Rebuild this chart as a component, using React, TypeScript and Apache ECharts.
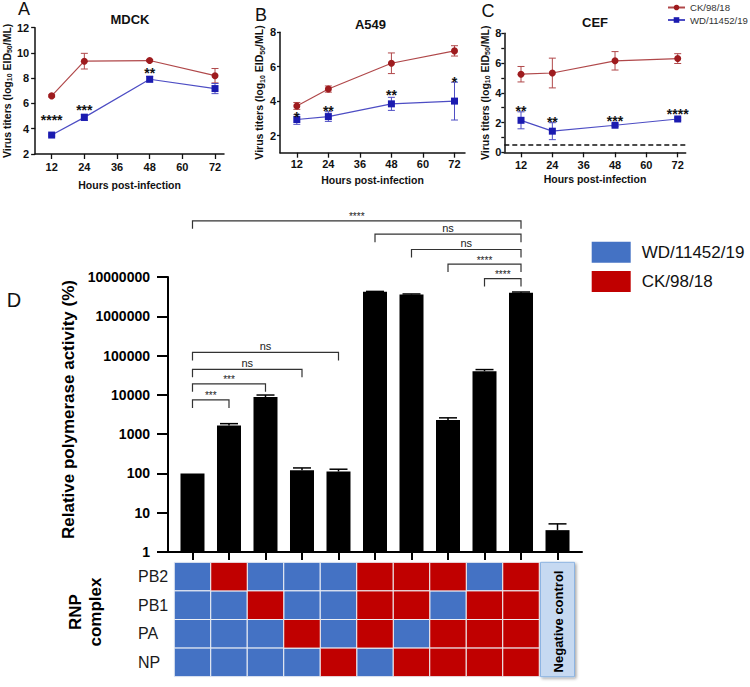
import React, { useEffect, useRef } from 'react';
import * as echarts from 'echarts';

// ---------- Data: panels A–C (virus titers, log10 EID50/mL) ----------
const hours = [12, 24, 48, 72];
const hourTicks = [12, 24, 36, 48, 60, 72];

const mdckCK = [6.6, 9.35, 9.4, 8.2];
const mdckCKErr = [0.08, 0.62, 0.08, 0.57];
const mdckWD = [3.5, 4.9, 7.92, 7.18];
const mdckWDErr = [0.08, 0.25, 0.22, 0.4];
const mdckStars = ['****', '***', '**', ''];
const mdckStarY = [5.0, 5.75, 8.65, 0];

const a549CK = [3.72, 4.7, 6.2, 6.92];
const a549CKErr = [0.2, 0.18, 0.6, 0.3];
const a549WD = [2.93, 3.1, 3.84, 4.0];
const a549WDErr = [0.28, 0.28, 0.38, 1.1];
const a549Stars = ['*', '**', '**', '*'];
const a549StarY = [3.26, 3.63, 4.53, 5.31];

const cefCK = [5.25, 5.33, 6.15, 6.3];
const cefCKErr = [0.52, 1.0, 0.62, 0.33];
const cefWD = [2.15, 1.42, 1.82, 2.24];
const cefWDErr = [0.57, 0.57, 0.08, 0.08];
const cefStars = ['**', '**', '***', '****'];
const cefStarY = [3.0, 2.28, 2.32, 2.77];
const cefDetectionLimit = 0.5;

// ---------- Data: panel D (relative polymerase activity, %) ----------
const barValues = [100, 1650, 8800, 120, 112, 4200000, 3600000, 2300, 40000, 4000000, 3.6];
const barErrTop = [100, 1850, 9900, 138, 128, 4300000, 3700000, 2600, 44000, 4150000, 5.2];
const yTickValues = [1, 10, 100, 1000, 10000, 100000, 1000000, 10000000];

// brackets: [fromBar, toBar, height (log10 of %), label]
const bracketFrom = [0, 5, 6, 7, 8, 0, 0, 0, 0];
const bracketTo = [9, 9, 9, 9, 9, 4, 3, 2, 1];
const bracketLevel = [8.43, 8.09, 7.7, 7.33, 6.96, 5.08, 4.65, 4.28, 3.87];
const bracketLabel = ['****', 'ns', 'ns', '****', '****', 'ns', 'ns', '***', '***'];

// RNP complex: 1 = CK/98/18 segment, 0 = WD/11452/19 segment
const rnpRows = ['PB2', 'PB1', 'PA', 'NP'];
const rowPB2 = [0, 1, 0, 0, 0, 1, 1, 1, 0, 1];
const rowPB1 = [0, 0, 1, 0, 0, 1, 1, 0, 1, 1];
const rowPA = [0, 0, 0, 1, 0, 1, 0, 1, 1, 1];
const rowNP = [0, 0, 0, 0, 1, 0, 1, 1, 1, 1];
const controlLabel = 'Negative control';

const strainCK = 'CK/98/18';
const strainWD = 'WD/11452/19';

// ---------- Styles ----------
const F = '"Liberation Sans", Arial, Helvetica, sans-serif';
const CK_DOT = '#9E1B1E';
const CK_LINE = '#B0484A';
const WD_DOT = '#1B1BB0';
const WD_LINE = '#4D4DC4';
const BLUE = '#4472C4';
const RED = '#C00000';

function errSeries(idx: number, means: number[], errs: number[], color: string) {
  return {
    type: 'custom',
    xAxisIndex: idx,
    yAxisIndex: idx,
    z: 1,
    silent: true,
    data: hours.map((h, i) => [h, means[i], errs[i]]),
    renderItem: (params: any, api: any) => {
      const x = api.value(0), m = api.value(1), e = api.value(2);
      const t = api.coord([x, m + e]);
      const b = api.coord([x, m - e]);
      const st = { stroke: color, lineWidth: 1 };
      return {
        type: 'group',
        children: [
          { type: 'line', shape: { x1: t[0], y1: t[1], x2: b[0], y2: b[1] }, style: st },
          { type: 'line', shape: { x1: t[0] - 3.5, y1: t[1], x2: t[0] + 3.5, y2: t[1] }, style: st },
          { type: 'line', shape: { x1: b[0] - 3.5, y1: b[1], x2: b[0] + 3.5, y2: b[1] }, style: st },
        ],
      };
    },
  };
}

function starSeries(idx: number, ys: number[], labels: string[]) {
  return {
    type: 'custom',
    xAxisIndex: idx,
    yAxisIndex: idx,
    z: 5,
    silent: true,
    data: hours.map((h, i) => [h, ys[i], i]).filter((d) => labels[d[2]]),
    renderItem: (params: any, api: any) => {
      const p = api.coord([api.value(0), api.value(1)]);
      return {
        type: 'text',
        x: p[0],
        y: p[1] + 3.4,
        z2: 10,
        style: {
          text: labels[api.value(2)],
          fontSize: 14,
          fontWeight: 'bold',
          fontFamily: F,
          fill: '#111',
          align: 'center',
          verticalAlign: 'middle',
        },
      };
    },
  };
}

function lineSeries(idx: number, name: string, vals: number[], isCK: boolean) {
  return {
    type: 'line',
    name,
    xAxisIndex: idx,
    yAxisIndex: idx,
    z: 3,
    data: hours.map((h, i) => [h, vals[i]]),
    symbol: isCK ? 'circle' : 'rect',
    symbolSize: 7,
    itemStyle: { color: isCK ? CK_DOT : WD_DOT },
    lineStyle: { color: isCK ? CK_LINE : WD_LINE, width: 1.2 },
  };
}

const yName = 'Virus titers (log{s|10} EID{s|50}/ML)';
const yNameStyle = {
  fontSize: 10.5,
  fontWeight: 'bold',
  fontFamily: F,
  color: '#111',
  rich: { s: { fontSize: 7, fontWeight: 'bold', fontFamily: F, color: '#111', padding: [6, 0, 0, 0] } },
};
const axisLbl = { fontSize: 11, fontWeight: 'bold', fontFamily: F, color: '#111' };
const axLine = { show: true, onZero: false, lineStyle: { color: '#111', width: 1.5 } };

function panelXAxis(idx: number, min: number, max: number, gap: number, margin: number) {
  return {
    type: 'value',
    gridIndex: idx,
    min,
    max,
    axisLine: axLine,
    axisTick: { show: true, length: 5, customValues: hourTicks, lineStyle: { color: '#111', width: 1.3 } },
    axisLabel: { ...axisLbl, margin, customValues: hourTicks },
    splitLine: { show: false },
    name: 'Hours post-infection',
    nameLocation: 'middle',
    nameGap: gap,
    nameTextStyle: { fontSize: 10.5, fontWeight: 'bold', fontFamily: F, color: '#111' },
  };
}

function rowsToCells(flag: number) {
  const rows = [rowPB2, rowPB1, rowPA, rowNP];
  const out: number[][] = [];
  rows.forEach((row, r) => row.forEach((v, c) => { if (v === flag) out.push([c, r]); }));
  return out;
}

function cellSeries(name: string, flag: number, color: string) {
  return {
    type: 'custom',
    name,
    xAxisIndex: 4,
    yAxisIndex: 4,
    itemStyle: { color },
    data: rowsToCells(flag),
    renderItem: (params: any, api: any) => {
      const c = api.coord([api.value(0), api.value(1)]);
      const w = api.size([1, 0])[0];
      const h = api.size([0, 1])[1];
      return {
        type: 'rect',
        shape: { x: c[0] - w / 2, y: c[1] - h / 2, width: w, height: h },
        style: { fill: color, stroke: '#EEF0F5', lineWidth: 1 },
      };
    },
  };
}

export default function App() {
  const ref = useRef<HTMLDivElement>(null);
  useEffect(() => {
    document.body.style.margin = '0';
    if (!ref.current) return;
    const chart = echarts.init(ref.current, undefined, { renderer: 'svg' });
    const lastBar = barValues.length - 1;
    const option: any = {
      animation: false,
      textStyle: { fontFamily: F },
      title: [
        { text: 'A', left: 24, top: 0, textAlign: 'center', padding: 0, textStyle: { fontSize: 18, fontWeight: 'normal', fontFamily: F, color: '#111' } },
        { text: 'MDCK', left: 130, top: 12.5, textAlign: 'center', padding: 0, textStyle: { fontSize: 13, fontWeight: 'bold', fontFamily: F, color: '#111' } },
        { text: 'B', left: 261, top: 5.5, textAlign: 'center', padding: 0, textStyle: { fontSize: 18, fontWeight: 'normal', fontFamily: F, color: '#111' } },
        { text: 'A549', left: 370.5, top: 17.7, textAlign: 'center', padding: 0, textStyle: { fontSize: 13, fontWeight: 'bold', fontFamily: F, color: '#111' } },
        { text: 'C', left: 488, top: 1.5, textAlign: 'center', padding: 0, textStyle: { fontSize: 18, fontWeight: 'normal', fontFamily: F, color: '#111' } },
        { text: 'CEF', left: 595, top: 16, textAlign: 'center', padding: 0, textStyle: { fontSize: 13, fontWeight: 'bold', fontFamily: F, color: '#111' } },
        { text: 'D', left: 14, top: 290, textAlign: 'center', padding: 0, textStyle: { fontSize: 20, fontWeight: 'normal', fontFamily: F, color: '#111' } },
      ],
      legend: [
        {
          data: [strainCK, strainWD],
          orient: 'vertical',
          left: 667,
          top: 2.5,
          padding: 0,
          itemWidth: 17,
          itemHeight: 7,
          itemGap: 2.5,
          selectedMode: false,
          textStyle: { fontSize: 9.6, fontFamily: F, color: '#333' },
        },
        {
          data: [
            { name: strainWD + ' ', icon: 'rect', itemStyle: { color: BLUE } },
            { name: strainCK + ' ', icon: 'rect', itemStyle: { color: RED } },
          ],
          orient: 'vertical',
          left: 591.7,
          top: 241.7,
          padding: 0,
          itemWidth: 39,
          itemHeight: 21,
          itemGap: 8.4,
          selectedMode: false,
          formatter: (n: string) => n.trim(),
          textStyle: { fontSize: 17, fontFamily: F, color: '#111', padding: [0, 0, 0, 6] },
        },
      ],
      grid: [
        { left: 33.3, top: 27.7, width: 190.7, height: 126.3 },
        { left: 280, top: 32.3, width: 185, height: 120.4 },
        { left: 504.3, top: 33.3, width: 181.4, height: 119 },
        { left: 168, top: 277, width: 414, height: 275 },
        { left: 168, top: 562.3, width: 414, height: 114.4 },
      ],
      xAxis: [
        panelXAxis(0, 5.93, 75.3, 25.5, 7),
        panelXAxis(1, 5.6, 76, 21.5, 6),
        panelXAxis(2, 5.6, 75.06, 21.5, 7),
        {
          type: 'value',
          gridIndex: 3,
          min: -0.671,
          max: 10.671,
          axisLine: { show: true, onZero: false, lineStyle: { color: '#000', width: 2 } },
          axisTick: { show: true, length: 8, customValues: barValues.map((_, i) => i), lineStyle: { color: '#000', width: 2 } },
          axisLabel: { show: false },
          splitLine: { show: false },
        },
        { type: 'value', gridIndex: 4, min: -0.671, max: 10.671, show: false },
      ],
      yAxis: [
        {
          type: 'value', gridIndex: 0, min: 2, max: 12, interval: 2,
          axisLine: axLine,
          axisTick: { show: true, length: 4, lineStyle: { color: '#111', width: 1.3 } },
          axisLabel: { ...axisLbl, margin: 6 },
          splitLine: { show: false },
          name: yName, nameLocation: 'middle', nameGap: 19, nameTextStyle: yNameStyle,
        },
        {
          type: 'value', gridIndex: 1, min: 1, max: 8,
          axisLine: axLine,
          axisTick: { show: true, length: 3, customValues: [2, 4, 6, 8], lineStyle: { color: '#111', width: 1.3 } },
          axisLabel: { ...axisLbl, margin: 4, customValues: [2, 4, 6, 8] },
          splitLine: { show: false },
          name: yName, nameLocation: 'middle', nameGap: 10.5, nameTextStyle: yNameStyle,
        },
        {
          type: 'value', gridIndex: 2, min: 0, max: 8, interval: 1,
          axisLine: axLine,
          axisTick: { show: true, length: 3, lineStyle: { color: '#111', width: 1.3 } },
          axisLabel: { ...axisLbl, margin: 3, formatter: (v: number) => (v % 2 === 0 ? String(v) : '') },
          splitLine: { show: false },
          name: yName, nameLocation: 'middle', nameGap: 13, nameTextStyle: yNameStyle,
        },
        {
          type: 'log', gridIndex: 3, min: 1, max: 10000000, logBase: 10, splitNumber: 7,
          axisLine: { show: true, onZero: false, lineStyle: { color: '#000', width: 2 } },
          axisTick: { show: true, length: 11, customValues: yTickValues, lineStyle: { color: '#000', width: 2 } },
          axisLabel: {
            fontSize: 14, fontWeight: 'bold', fontFamily: F, color: '#000', margin: 18,
            customValues: yTickValues, formatter: (v: number) => String(Math.round(v)),
          },
          splitLine: { show: false },
          name: 'Relative polymerase activity (%)',
          nameLocation: 'middle',
          nameGap: 86.5,
          nameTextStyle: { fontSize: 17, fontWeight: 'bold', fontFamily: F, color: '#000', padding: [0, 0, 0, 10] },
        },
        {
          type: 'category', gridIndex: 4, data: rnpRows, inverse: true,
          axisLine: { show: false }, axisTick: { show: false },
          axisLabel: { fontSize: 16, fontFamily: F, color: '#1a1a1a', align: 'left', margin: 30 },
          splitLine: { show: false },
          name: 'RNP\ncomplex',
          nameLocation: 'middle',
          nameGap: 63,
          nameTextStyle: { fontSize: 17, fontWeight: 'bold', fontFamily: F, color: '#000', lineHeight: 20, padding: [0, 0, 0, 15] },
        },
      ],
      series: [
        // Panel A
        errSeries(0, mdckCK, mdckCKErr, CK_LINE),
        errSeries(0, mdckWD, mdckWDErr, WD_LINE),
        lineSeries(0, strainCK, mdckCK, true),
        lineSeries(0, strainWD, mdckWD, false),
        starSeries(0, mdckStarY, mdckStars),
        // Panel B
        errSeries(1, a549CK, a549CKErr, CK_LINE),
        errSeries(1, a549WD, a549WDErr, WD_LINE),
        lineSeries(1, strainCK, a549CK, true),
        lineSeries(1, strainWD, a549WD, false),
        starSeries(1, a549StarY, a549Stars),
        // Panel C
        errSeries(2, cefCK, cefCKErr, CK_LINE),
        errSeries(2, cefWD, cefWDErr, WD_LINE),
        lineSeries(2, strainCK, cefCK, true),
        {
          ...lineSeries(2, strainWD, cefWD, false),
          markLine: {
            silent: true,
            symbol: 'none',
            label: { show: false },
            lineStyle: { color: '#111', width: 1.5, type: [5, 3] },
            data: [{ yAxis: cefDetectionLimit }],
          },
        },
        starSeries(2, cefStarY, cefStars),
        // Panel D bars
        {
          type: 'bar',
          xAxisIndex: 3,
          yAxisIndex: 3,
          barWidth: 24,
          itemStyle: { color: '#000' },
          data: barValues.map((v, i) => [i, v]),
          z: 2,
        },
        {
          type: 'custom',
          xAxisIndex: 3,
          yAxisIndex: 3,
          silent: true,
          z: 3,
          data: barValues.map((v, i) => [i, v, barErrTop[i]]).filter((d) => d[2] > d[1]),
          renderItem: (params: any, api: any) => {
            const t = api.coord([api.value(0), api.value(2)]);
            const b = api.coord([api.value(0), api.value(1)]);
            const st = { stroke: '#000', lineWidth: 1.5 };
            return {
              type: 'group',
              children: [
                { type: 'line', shape: { x1: t[0], y1: t[1], x2: b[0], y2: b[1] }, style: st },
                { type: 'line', shape: { x1: t[0] - 9, y1: t[1], x2: t[0] + 9, y2: t[1] }, style: st },
              ],
            };
          },
        },
        // significance brackets
        {
          type: 'custom',
          xAxisIndex: 3,
          yAxisIndex: 3,
          silent: true,
          clip: false,
          z: 4,
          data: bracketFrom.map((f, i) => [f, bracketTo[i], bracketLevel[i], i]),
          renderItem: (params: any, api: any) => {
            const lvl = Math.pow(10, api.value(2));
            const p1 = api.coord([api.value(0), lvl]);
            const p2 = api.coord([api.value(1), lvl]);
            const lab = bracketLabel[api.value(3)];
            const isNs = lab === 'ns';
            const st = { stroke: '#333', lineWidth: 1.2 };
            return {
              type: 'group',
              children: [
                { type: 'polyline', shape: { points: [[p1[0], p1[1] + 8], [p1[0], p1[1]], [p2[0], p2[1]], [p2[0], p2[1] + 8]] }, style: { ...st, fill: 'none' } },
                {
                  type: 'text',
                  x: (p1[0] + p2[0]) / 2,
                  y: p1[1] - (isNs ? 6.3 : 4),
                  style: {
                    text: lab,
                    fontSize: isNs ? 11 : 10,
                    fontFamily: F,
                    fill: '#222',
                    align: 'center',
                    verticalAlign: 'middle',
                  },
                },
              ],
            };
          },
        },
        // RNP complex grid
        cellSeries(strainWD + ' ', 0, BLUE),
        cellSeries(strainCK + ' ', 1, RED),
        {
          type: 'custom',
          xAxisIndex: 4,
          yAxisIndex: 4,
          silent: true,
          data: [[lastBar, 0]],
          renderItem: (params: any, api: any) => {
            const cs = params.coordSys;
            const cx = api.coord([api.value(0), 0])[0];
            return {
              type: 'group',
              children: [
                {
                  type: 'rect',
                  shape: { x: cx - 17, y: cs.y, width: 34, height: cs.height },
                  style: {
                    fill: '#C6D9F1', stroke: '#8DB4E2', lineWidth: 1,
                    shadowBlur: 3, shadowOffsetX: 1.5, shadowOffsetY: 1.5, shadowColor: 'rgba(0,0,0,0.35)',
                  },
                },
                {
                  type: 'text',
                  x: cx + 1,
                  y: cs.y + cs.height / 2 + 2,
                  rotation: Math.PI / 2,
                  style: {
                    text: controlLabel, fontSize: 13, fontWeight: 'bold', fontFamily: F, fill: '#000',
                    align: 'center', verticalAlign: 'middle',
                  },
                },
              ],
            };
          },
        },
      ],
    };
    chart.setOption(option);
    return () => chart.dispose();
  }, []);
  return <div ref={ref} style={{ width: 750, height: 687 }} />;
}
